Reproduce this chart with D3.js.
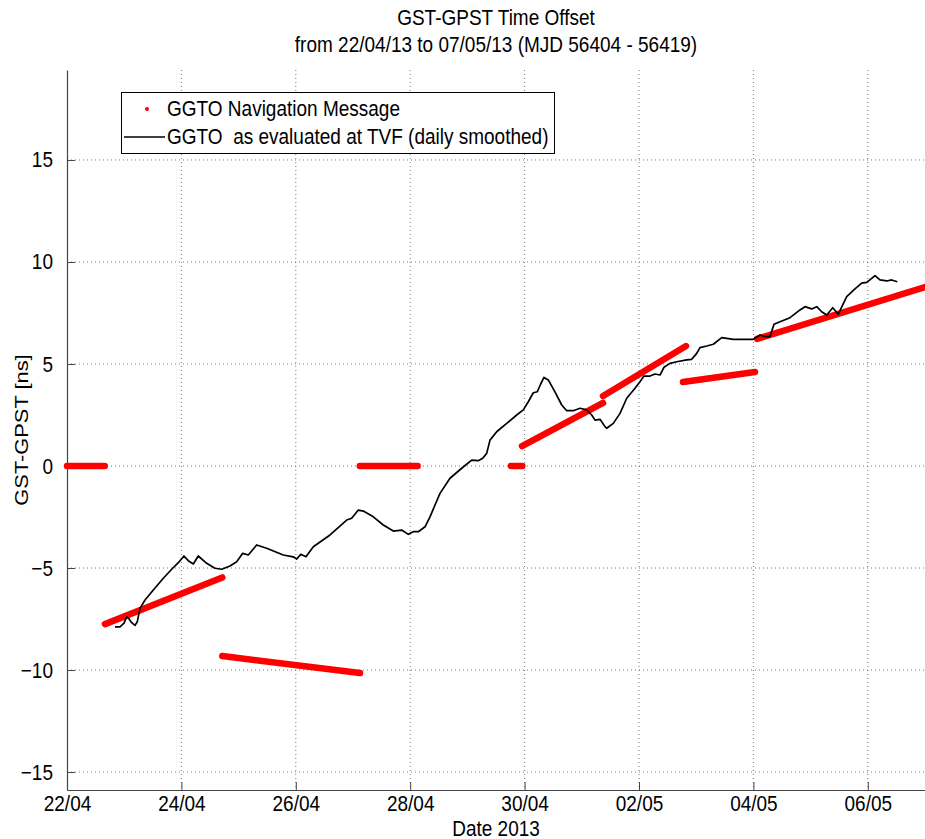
<!DOCTYPE html>
<html><head><meta charset="utf-8">
<script src="https://cdn.jsdelivr.net/npm/d3@7"></script>
<style>
html,body{margin:0;padding:0;background:#fff;}
svg text{font-family:"Liberation Sans",Arial,sans-serif;fill:#000;white-space:pre;}
</style></head>
<body><svg id="chart" width="925" height="839"></svg>
<script>
// ---- data ----
const titleLines = ["GST-GPST Time Offset", "from 22/04/13 to 07/05/13 (MJD 56404 - 56419)"];
const xTickDays = [0, 2, 4, 6, 8, 10, 12, 14];
const xTickLabels = ["22/04", "24/04", "26/04", "28/04", "30/04", "02/05", "04/05", "06/05"];
const yTicks = [-15, -10, -5, 0, 5, 10, 15];
const legendLabels = ["GGTO Navigation Message", "GGTO  as evaluated at TVF (daily smoothed)"];

// Navigation message segments (days since 22/04 00:00)
const navStartDay = [0.00, 0.664, 2.715, 5.12, 7.76, 7.955, 9.371, 10.769, 12.063];
const navEndDay   = [0.66, 2.715, 5.122, 6.13, 7.96, 9.371, 10.822, 12.028, 15.0];
const navStartVal = [0, -7.75, -9.31, 0, 0, 0.98, 3.43, 4.12, 6.23];
const navEndVal   = [0, -5.46, -10.15, 0, 0, 3.09, 5.88, 4.61, 8.77];

// TVF smoothed GGTO
const tvfDay = [0.839,0.927,0.997,1.044,1.089,1.131,1.189,1.229,1.276,1.364,1.509,1.684,1.830,1.946,2.045,2.121,2.208,2.295,2.442,2.587,2.705,2.850,2.967,3.072,3.170,3.316,3.491,3.781,3.956,4.016,4.086,4.178,4.306,4.598,4.890,4.977,5.093,5.180,5.355,5.530,5.705,5.851,5.967,6.054,6.142,6.259,6.346,6.434,6.521,6.696,6.900,7.075,7.191,7.268,7.337,7.395,7.512,7.687,7.862,7.977,8.065,8.152,8.222,8.281,8.339,8.414,8.531,8.649,8.736,8.851,8.969,9.086,9.173,9.231,9.318,9.406,9.435,9.551,9.668,9.785,9.930,10.017,10.087,10.192,10.280,10.367,10.437,10.542,10.659,10.834,10.921,11.009,11.066,11.184,11.299,11.446,11.649,11.998,12.115,12.203,12.290,12.360,12.465,12.640,12.815,12.902,13.019,13.107,13.194,13.282,13.387,13.484,13.631,13.776,13.893,13.981,14.068,14.126,14.213,14.330,14.418,14.516];
const tvfVal = [-7.88,-7.88,-7.70,-7.39,-7.51,-7.68,-7.81,-7.63,-6.98,-6.57,-6.08,-5.50,-5.06,-4.74,-4.41,-4.64,-4.80,-4.41,-4.77,-5.01,-5.06,-4.90,-4.69,-4.28,-4.36,-3.87,-4.03,-4.36,-4.45,-4.56,-4.33,-4.45,-3.96,-3.38,-2.65,-2.56,-2.16,-2.21,-2.49,-2.89,-3.19,-3.14,-3.35,-3.22,-3.22,-2.98,-2.49,-1.91,-1.34,-0.60,-0.11,0.29,0.26,0.38,0.62,1.27,1.68,2.09,2.50,2.75,3.15,3.59,3.64,4.02,4.34,4.22,3.63,2.99,2.71,2.71,2.83,2.75,2.50,2.25,2.29,1.93,1.85,2.09,2.58,3.32,3.81,4.13,4.41,4.41,4.51,4.46,4.84,5.03,5.11,5.20,5.23,5.52,5.80,5.88,5.97,6.29,6.21,6.21,6.42,6.34,6.34,6.95,7.07,7.27,7.65,7.81,7.70,7.81,7.56,7.40,7.76,7.44,8.30,8.68,8.96,9.00,9.20,9.33,9.12,9.07,9.12,9.03];

// ---- layout ----
const svg = d3.select("#chart");
const L = 67, R = 925, T = 70, B = 790;
const x = d3.scaleLinear().domain([0, 15]).range([L, R]);
const y = d3.scaleLinear().domain([-15.88, 19.41]).range([B, T]);
const FS = 19;
const SY = 1.15; // vertical stretch of glyphs

function txt(px, py, s, anchor, rot) {
  const g = svg.append("g").attr("transform", `translate(${px},${py})` + (rot ? ` rotate(${rot})` : ""));
  return g.append("text").attr("transform", rot ? `scale(${SY},1)` : `scale(1,${SY})`)
    .attr("text-anchor", anchor || "start").attr("font-size", FS).text(s);
}

// gridlines
const grid = svg.append("g");
grid.selectAll("line.vx").data(xTickDays.slice(1)).enter().append("line")
  .attr("x1", d => x(d)).attr("x2", d => x(d)).attr("y1", T).attr("y2", B)
  .attr("stroke", "#777").attr("stroke-width", 1).attr("stroke-dasharray", "1,3");
grid.selectAll("line.hy").data(yTicks).enter().append("line")
  .attr("x1", L).attr("x2", R).attr("y1", d => y(d)).attr("y2", d => y(d))
  .attr("stroke", "#777").attr("stroke-width", 1).attr("stroke-dasharray", "1,3");

// axes
const xAxis = d3.axisBottom(x).tickValues(xTickDays).tickFormat((d, i) => xTickLabels[i]).tickSizeInner(-8).tickSizeOuter(0).tickPadding(5);
const gx = svg.append("g").attr("transform", `translate(0,${B})`).call(xAxis);
const yAxis = d3.axisLeft(y).tickValues(yTicks).tickSizeInner(-8).tickSizeOuter(0).tickPadding(14);
const gy = svg.append("g").attr("transform", `translate(${L},0)`).call(yAxis);
[gx, gy].forEach(g => {
  g.select(".domain").attr("stroke", "#444").attr("stroke-width", 1.2);
  g.selectAll(".tick line").attr("stroke", "#444");
  g.selectAll(".tick text").attr("font-size", FS).attr("font-family", "Liberation Sans, Arial, sans-serif").attr("fill", "#000")
    .attr("transform", `scale(1,${SY})`);
});
gx.selectAll(".tick text").attr("dy", "0.71em");

// navigation message segments (red dots forming thick lines)
const segs = navStartDay.map((d, i) => ({x0: d, x1: navEndDay[i], v0: navStartVal[i], v1: navEndVal[i]}));
svg.append("g").selectAll("line").data(segs).enter().append("line")
  .attr("x1", d => x(d.x0)).attr("x2", d => x(d.x1))
  .attr("y1", d => y(d.v0)).attr("y2", d => y(d.v1))
  .attr("stroke", "#ff0000").attr("stroke-width", 6.5).attr("stroke-linecap", "round");

// TVF line
const pts = tvfDay.map((d, i) => [d, tvfVal[i]]);
svg.append("path").datum(pts)
  .attr("d", d3.line().x(d => x(d[0])).y(d => y(d[1])))
  .attr("fill", "none").attr("stroke", "#000").attr("stroke-width", 1.7).attr("stroke-linejoin", "round");

// title
txt((L + R) / 2, 25, titleLines[0], "middle");
txt((L + R) / 2, 52, titleLines[1], "middle");

// axis labels
txt((L + R) / 2, 836, "Date 2013", "middle");
txt(28, (T + B) / 2, "GST-GPST [ns]", "middle", -90);

// legend
svg.append("rect").attr("x", 121.5).attr("y", 92.5).attr("width", 433).attr("height", 61).attr("fill", "#fff").attr("stroke", "#000").attr("stroke-width", 1);
svg.append("circle").attr("cx", 147).attr("cy", 109).attr("r", 2).attr("fill", "#ff0000");
txt(167, 115.5, legendLabels[0], "start");
svg.append("line").attr("x1", 124).attr("x2", 165).attr("y1", 137).attr("y2", 137).attr("stroke", "#000").attr("stroke-width", 1.7);
txt(167, 144, legendLabels[1], "start");
</script></body></html>
